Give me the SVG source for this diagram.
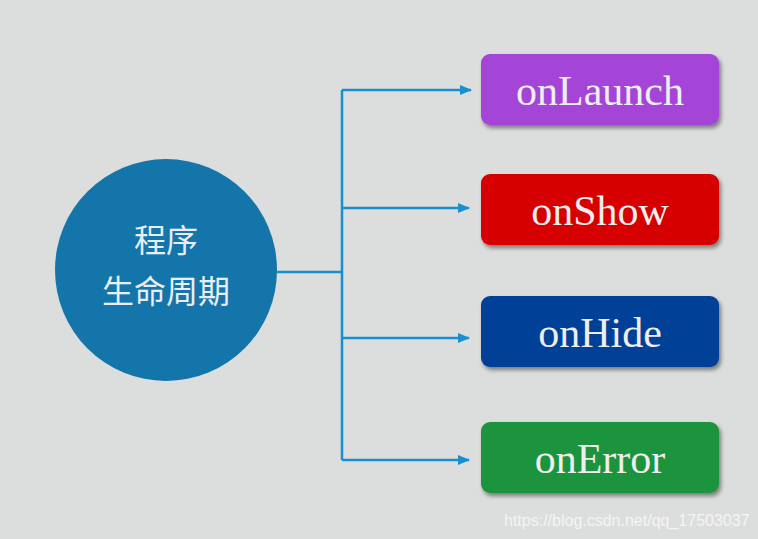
<svg xmlns="http://www.w3.org/2000/svg" width="758" height="539" viewBox="0 0 758 539">
<defs>
<marker id="ah" markerWidth="12" markerHeight="10" refX="11" refY="5" orient="auto" markerUnits="userSpaceOnUse"><path d="M0,0 L12,5 L0,10 Z" fill="#1a8fd0"/></marker>
<filter id="sh" x="-10%" y="-20%" width="130%" height="150%"><feDropShadow dx="2" dy="3" stdDeviation="2" flood-color="#000" flood-opacity="0.45"/></filter>
</defs>
<style>
.box text{font-family:"Liberation Serif",serif;font-size:42px;fill:#eeeeee;text-anchor:middle}
.c{stroke:#1a8fd0;stroke-width:2.5;fill:none}
</style>
<rect width="758" height="539" fill="#dcdedd"/>
<g id="connectors">
<path class="c" d="M277,272 H342"/>
<path class="c" d="M342,90 V460"/>
<path class="c" d="M342,90 H471" marker-end="url(#ah)"/>
<path class="c" d="M342,208 H469" marker-end="url(#ah)"/>
<path class="c" d="M342,338 H469" marker-end="url(#ah)"/>
<path class="c" d="M342,460 H469" marker-end="url(#ah)"/>
</g>
<g id="center"><circle cx="166" cy="270" r="111" fill="#1375aa"/>
<text x="166" y="252" font-family="Noto Sans CJK SC,sans-serif" font-size="32" fill="#e8eef3" text-anchor="middle">程序</text>
<text x="166" y="303" font-family="Noto Sans CJK SC,sans-serif" font-size="32" fill="#e8eef3" text-anchor="middle">生命周期</text></g>
<g id="onLaunch" class="box"><rect x="481" y="54" width="238" height="71" rx="9" fill="#a544d8" filter="url(#sh)"/><text x="600" y="105">onLaunch</text></g>
<g id="onShow" class="box"><rect x="481" y="174" width="238" height="71" rx="9" fill="#d60000" filter="url(#sh)"/><text x="600" y="225">onShow</text></g>
<g id="onHide" class="box"><rect x="481" y="296" width="238" height="71" rx="9" fill="#033f96" filter="url(#sh)"/><text x="600" y="347">onHide</text></g>
<g id="onError" class="box"><rect x="481" y="422" width="238" height="71" rx="9" fill="#1e943d" filter="url(#sh)"/><text x="600" y="473">onError</text></g>
<text x="504" y="526" font-family="Liberation Sans,sans-serif" font-size="16" fill="#f4f4f4">https://blog.csdn.net/qq_17503037</text>
</svg>
